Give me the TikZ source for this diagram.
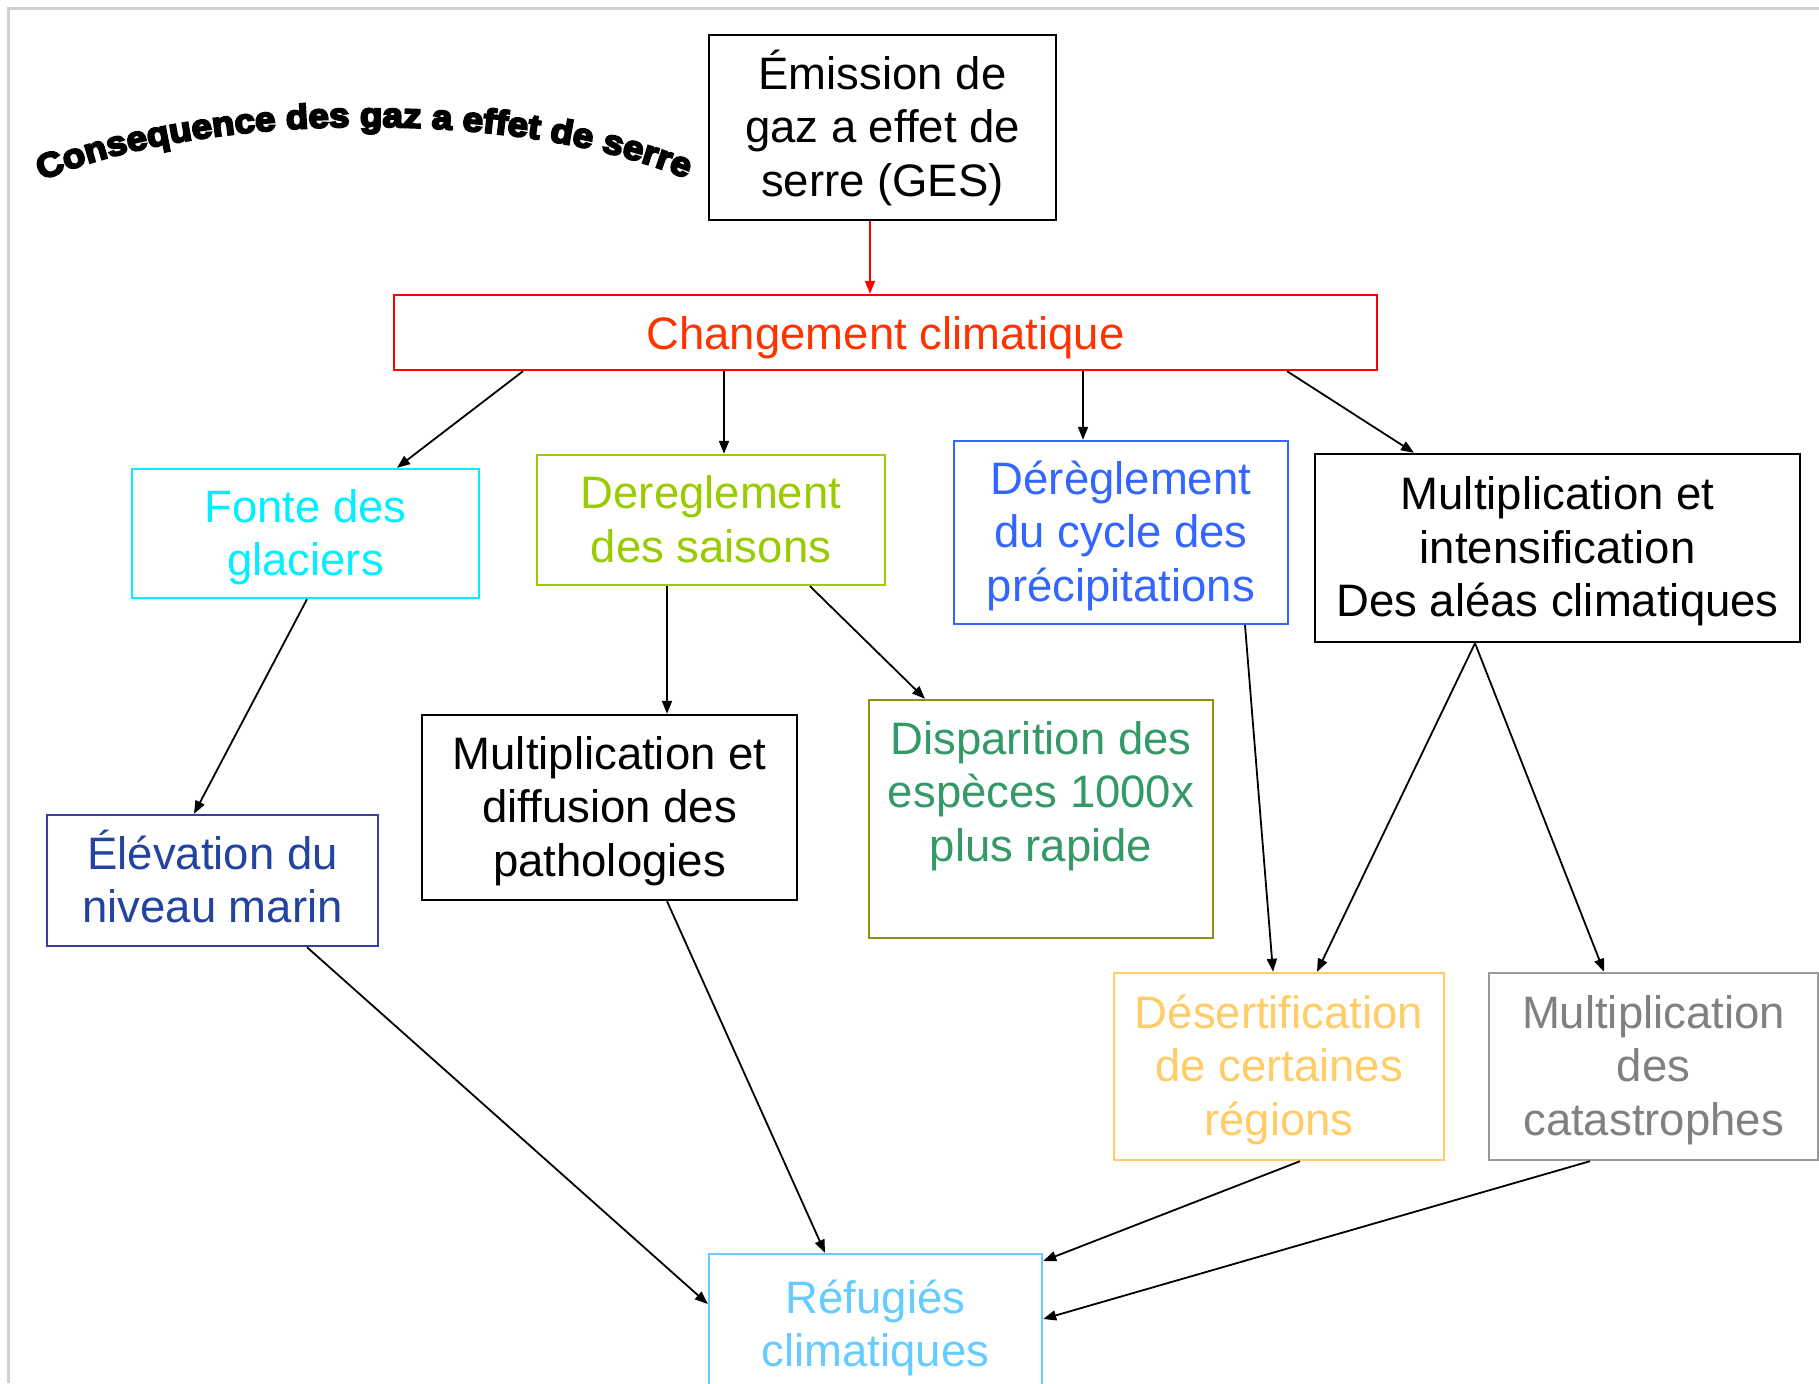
\documentclass[tikz,border=0pt]{standalone}
\usepackage{fontspec}
\setmainfont{Liberation Sans}
\newfontfamily\titlefont[FakeBold=6,FakeStretch=1.08]{Liberation Sans}
\newcommand\titlestyle{\titlefont\bfseries\fontsize{34}{36}\selectfont}
\newcommand\fl{\rule{0pt}{47pt}}
\usetikzlibrary{arrows.meta,decorations.text}
\definecolor{cred}{HTML}{FF0000}
\definecolor{corange}{HTML}{FF3300}
\definecolor{ccyan}{HTML}{00F0FF}
\definecolor{cyg}{HTML}{99CC00}
\definecolor{cblue}{HTML}{3366FF}
\definecolor{cnavytext}{HTML}{2244A0}
\definecolor{cnavy}{HTML}{3B3BA8}
\definecolor{cgreen}{HTML}{339966}
\definecolor{colive}{HTML}{8F8F14}
\definecolor{cgold}{HTML}{FFCC66}
\definecolor{cgraytext}{HTML}{808080}
\definecolor{cgray}{HTML}{999999}
\definecolor{csky}{HTML}{66CCFF}
\definecolor{cframe}{HTML}{D0D0D0}
\begin{document}
\begin{tikzpicture}[x=1pt,y=-1pt,
  box/.style={draw, line width=2.4pt, rectangle, align=center, inner sep=0pt,
    font=\fontsize{45.5}{53.5}\selectfont,
    execute at begin node=\rule{0pt}{49.5pt}, execute at end node=\strut},
  arr/.style={line width=1.8pt, -{Triangle[length=13pt,width=10pt]}},
]
\useasboundingbox (0,0) rectangle (1819,1383);
\fill[white] (0,0) rectangle (1819,1383);
\draw[cframe, line width=3pt] (8,1383) -- (8,9) -- (1819,9);

% title along an arc
\path[decorate, decoration={text along path, text align=center,
  text={|\titlestyle|Consequence des gaz a effet de serre}}]
  (34,184) .. controls (200,108) and (530,108) .. (694,182);

% boxes
\node[box, minimum width=347pt, minimum height=185pt] (ges) at (882.5,127.5)
  {\fl Émission de\\gaz a effet de\\serre (GES)};
\node[box, draw=cred, text=corange, minimum width=983pt, minimum height=75pt] (chg) at (885.5,332.5)
  {Changement climatique};
\node[box, draw=ccyan, text=ccyan, minimum width=347pt, minimum height=129pt] (fonte) at (305.5,533.5)
  {\fl Fonte des\\glaciers};
\node[box, draw=cyg, text=cyg, minimum width=348pt, minimum height=130pt] (sais) at (711,520)
  {\fl Dereglement\\des saisons};
\node[box, draw=cblue, text=cblue, minimum width=334pt, minimum height=183pt] (cycle) at (1121,532.5)
  {\fl Dérèglement\\du cycle des\\précipitations};
\node[box, minimum width=485pt, minimum height=188pt] (intens) at (1557.5,548)
  {\fl Multiplication et\\intensification\\Des aléas climatiques};
\node[box, draw=cnavy, text=cnavytext, minimum width=331pt, minimum height=131pt] (elev) at (212.5,880.5)
  {\fl Élévation du\\niveau marin};
\node[box, minimum width=375pt, minimum height=185pt] (diff) at (609.5,807.5)
  {\fl Multiplication et\\diffusion des\\pathologies};
\node[box, draw=colive, text=cgreen, minimum width=344pt, minimum height=238pt] (disp) at (1041,819)
  {\fl Disparition des\\espèces 1000x\\plus rapide\\ \mbox{}};
\node[box, draw=cgold, text=cgold, minimum width=330pt, minimum height=187pt] (dese) at (1279,1066.5)
  {\fl Désertification\\de certaines\\régions};
\node[box, draw=cgray, text=cgraytext, minimum width=329pt, minimum height=187pt] (cata) at (1653.5,1066.5)
  {\fl Multiplication\\des\\catastrophes};
\node[box, draw=csky, text=csky, minimum width=333pt, minimum height=141pt] (refu) at (875.5,1324.5)
  {\fl Réfugiés\\climatiques};

% connectors
\draw[arr, cred] (ges.south -| 870,0) -- (chg.north -| 870,0);
\draw[arr] (chg.south -| 523,0) -- (fonte.north -| 397,0);
\draw[arr] (chg.south -| 724,0) -- (sais.north -| 724,0);
\draw[arr] (chg.south -| 1083,0) -- (cycle.north -| 1083,0);
\draw[arr] (chg.south -| 1287,0) -- (intens.north -| 1414,0);
\draw[arr] (fonte.south -| 307,0) -- (elev.north -| 194,0);
\draw[arr] (sais.south -| 667,0) -- (diff.north -| 667,0);
\draw[arr] (sais.south -| 810,0) -- (disp.north -| 925,0);
\draw[arr] (cycle.south -| 1245,0) -- (dese.north -| 1273,0);
\draw[arr] (intens.south -| 1475,0) -- (dese.north -| 1317,0);
\draw[arr] (intens.south -| 1475,0) -- (cata.north -| 1604,0);
\draw[arr] (elev.south -| 307,0) -- (refu.west |- 0,1304);
\draw[arr] (diff.south -| 667,0) -- (refu.north -| 825,0);
\draw[arr] (dese.south -| 1300,0) -- (refu.east |- 0,1261);
\draw[arr] (cata.south -| 1590,0) -- (refu.east |- 0,1319);
\end{tikzpicture}
\end{document}
